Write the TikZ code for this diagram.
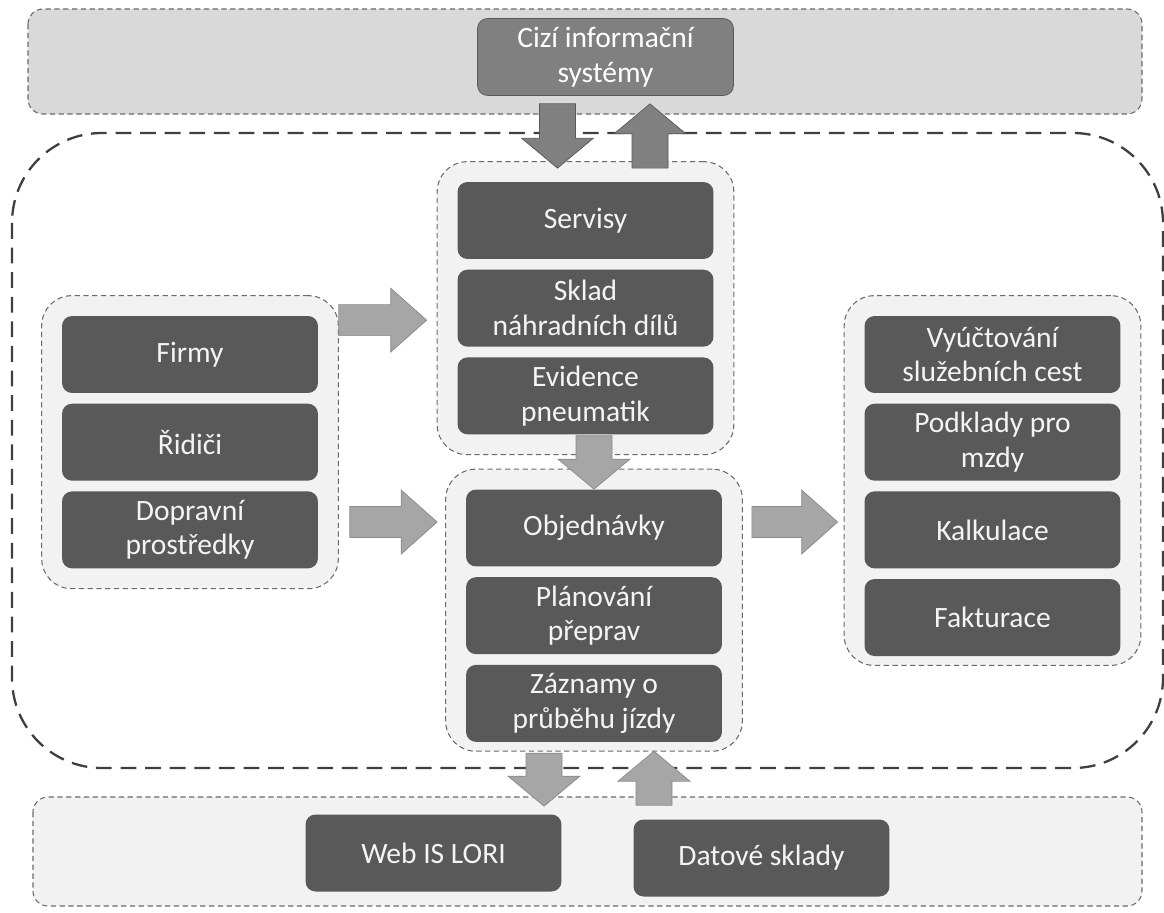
\documentclass[tikz,border=0pt]{standalone}
\usepackage{fontspec}
\setmainfont{Carlito}
\usetikzlibrary{positioning,fit,calc,backgrounds}
\definecolor{boxgray}{HTML}{595959}
\definecolor{txtwhite}{HTML}{F4F4F4}
\definecolor{grpgray}{HTML}{F2F2F2}
\definecolor{bandgray}{HTML}{D9D9D9}
\definecolor{linegray}{HTML}{6A6A6A}
\definecolor{midgray}{HTML}{808080}
\definecolor{arrowgray}{HTML}{A6A6A6}
\definecolor{arrowline}{HTML}{8A8A8A}
\definecolor{outerline}{HTML}{3F3F3F}

\begin{document}
\begin{tikzpicture}[x=0.02cm, y=-0.02cm,
  box/.style={fill=boxgray, text=txtwhite, rounded corners=0.2cm, inner sep=0pt,
    minimum width=5.12cm, minimum height=1.54cm, align=center,
    font=\fontsize{16.8}{19.8}\selectfont},
  grp/.style={fill=grpgray, draw=linegray, line width=0.6pt,
    dash pattern=on 3pt off 2pt, rounded corners=0.6cm, inner sep=0.4cm},
  band/.style={draw=linegray, line width=0.6pt, dash pattern=on 3pt off 2pt,
    rounded corners=0.3cm},
  outer/.style={draw=outerline, line width=1.3pt, dash pattern=on 9pt off 5pt,
    rounded corners=1.8cm},
  barrow/.style n args={3}{to path={
    ($(\tikztostart)!#1!90:(\tikztotarget)$)
    -- ($(\tikztotarget)!#3!(\tikztostart)!#1!-90:(\tikztostart)$)
    -- ($(\tikztotarget)!#3!(\tikztostart)!#2!-90:(\tikztostart)$)
    -- (\tikztotarget)
    -- ($(\tikztotarget)!#3!(\tikztostart)!#2!90:(\tikztostart)$)
    -- ($(\tikztotarget)!#3!(\tikztostart)!#1!90:(\tikztostart)$)
    -- ($(\tikztostart)!#1!-90:(\tikztotarget)$) -- cycle}},
  harrow/.style={fill=arrowgray, draw=arrowline, barrow={0.31cm}{0.64cm}{0.72cm}},
  varrow/.style={fill=arrowgray, draw=arrowline, barrow={0.36cm}{0.72cm}{0.6cm}},
  dark/.style={fill=midgray, draw=boxgray},
  node distance=0.2cm]
  \useasboundingbox (0,0) rectangle (1164,913);

  \node[box, dark, text=white] (cizi) at (605.5,57) {Cizí informační\\systémy};

  \node[box] (firmy) at (190,354.5) {Firmy};
  \node[box, below=of firmy] (ridici) {Řidiči};
  \node[box, below=of ridici] (doprava) {Dopravní\\prostředky};

  \node[box] (servisy) at (585.5,220.5) {Servisy};
  \node[box, below=of servisy] (sklad) {Sklad\\náhradních dílů};
  \node[box, below=of sklad] (pneu) {Evidence\\pneumatik};

  \node[box] (obj) at (594,528) {Objednávky};
  \node[box, below=of obj] (plan) {Plánování\\přeprav};
  \node[box, below=of plan] (jizdy) {Záznamy o\\průběhu jízdy};

  \node[box] (vyuct) at (992.5,354.5) {Vyúčtování\\služebních cest};
  \node[box, below=of vyuct] (mzdy) {Podklady pro\\mzdy};
  \node[box, below=of mzdy] (kalk) {Kalkulace};
  \node[box, below=of kalk] (fakt) {Fakturace};

  \node[box] (web) at (433.5,853) {Web IS LORI};
  \node[box] (sklady) at (761.5,858) {Datové sklady};

  \begin{scope}[on background layer]
    \draw[band, fill=bandgray] (28,9) rectangle (1142,114);
    \draw[band, fill=grpgray] (33,797) rectangle (1142,906);
    \draw[outer] (12,133) rectangle (1163,768);
    \node[grp, fit=(firmy)(doprava)] (gvstup) {};
    \node[grp, fit=(servisy)(pneu)] (gservis) {};
    \node[grp, fit={(obj) ($(jizdy.south)+(0,-11)$)}] (gprovoz) {};
    \node[grp, fit={(vyuct) ($(fakt.south)+(0,-11)$)}] (gvystup) {};
  \end{scope}

  % block arrows
  \path[varrow, dark] ($(cizi.south)+(-48,8)$) to ($(cizi.south |- gservis.north)+(-48,7)$);
  \path[varrow, dark] ($(cizi.south |- gservis.north)+(44.5,7)$) to ($(cizi.south)+(44.5,8)$);
  \path[harrow] ($(gvstup.north east)+(0,25)$) to ($(gservis.west |- gvstup.north east)+(-10,25)$);
  \path[harrow] ($(gvstup.east |- obj.west)+(11,-6)$) to ($(gprovoz.west |- obj.west)+(-8,-6)$);
  \path[harrow] ($(gprovoz.east |- obj.east)+(9,-6)$) to ($(gvystup.west |- obj.east)+(-6,-6)$);
  \path[varrow] ($(pneu.south)+(8.5,1)$) to (obj.north);
  \path[varrow] ($(jizdy.south)+(-50,11)$) to ($(web.north)+(110.5,-8)$);
  \path[varrow] ($(sklady.north)+(-107.5,-14)$) to ($(jizdy.south)+(60,9)$);
\end{tikzpicture}
\end{document}
